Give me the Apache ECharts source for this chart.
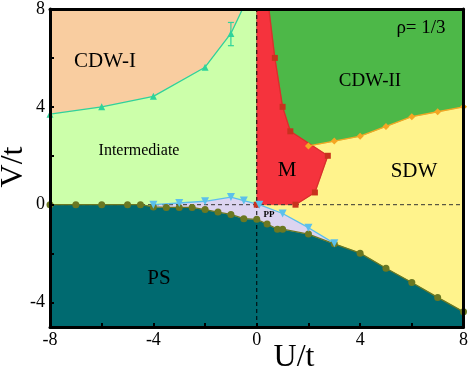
<!DOCTYPE html>
<html>
<head>
<meta charset="utf-8">
<script src="https://cdn.jsdelivr.net/npm/echarts@6/dist/echarts.min.js"></script>
<style>
  html, body { margin: 0; padding: 0; background: #fff; }
  #main { width: 471px; height: 372px; }
</style>
</head>
<body>
<div id="main"></div>
<script>
// axis range + ticks
var uMin = -8, uMax = 8, vMin = -5, vMax = 8;
var uTicks = [-8, -4, 0, 4, 8];
var uMinorTicks = [-8, -6, -4, -2, 0, 2, 4, 6, 8];
var vTicks = [-4, 0, 4, 8];
var vMinorTicks = [-4, -2, 0, 2, 4, 6, 8];

// CDW-I / Intermediate boundary (last point is where it hits the top)
var cdw1U = [-8, -6, -4, -2, -1, -0.55];
var cdw1V = [3.7, 4.0, 4.43, 5.62, 7.0, 8.0];
// error bar on the U=-1 point
var errU = [-1];
var errLo = [6.5];
var errHi = [7.45];

// M region boundary (red squares), starts at the top border
var mU = [0.47, 0.7, 1.0, 1.3, 2.75, 2.25, 1.5];
var mV = [8.0, 6.0, 4.0, 3.0, 2.0, 0.5, 0.0];

// CDW-II / SDW boundary (orange diamonds)
var sdwU = [2, 3, 4, 5, 6, 7, 8];
var sdwV = [2.4, 2.6, 2.8, 3.2, 3.6, 3.8, 4.0];

// PP upper boundary (blue down triangles)
var ppU = [-4, -3, -2, -1, -0.5, 0.1, 1, 2, 3];
var ppV = [0.0, 0.07, 0.14, 0.31, 0.17, 0.0, -0.36, -0.94, -1.58];

// PS boundary (olive circles)
var psU = [-8, -7, -6, -5, -4.5, -4, -3.5, -3, -2.5, -2, -1.5, -1, -0.5, 0, 0.4, 0.8, 1, 2, 3, 4, 5, 6, 7, 8];
var psV = [0, 0, 0, 0, 0, -0.09, -0.11, -0.11, -0.11, -0.2, -0.3, -0.4, -0.57, -0.6, -0.79, -1.0, -1.0, -1.2, -1.6, -1.98, -2.6, -3.18, -3.79, -4.38];

var serif = 'Liberation Serif';

function zip(us, vs){
	var out = [];
	for (var i = 0; i < us.length; i++) out.push([us[i], vs[i]]);
	return out;
}

// custom series that fills a polygon given in data coords
function region(pts, fill){
	return {
		type: 'custom',
		coordinateSystem: 'cartesian2d',
		silent: true,
		clip: true,
		z: 1,
		data: [[0, 0]],
		renderItem: function(params, api){
			var px = [];
			for (var i = 0; i < pts.length; i++) px.push(api.coord(pts[i]));
			return {type: 'polygon', shape: {points: px}, style: {fill: fill, stroke: fill, lineWidth: 0.5}};
		}
	};
}

// build region outlines from the boundary arrays
var rectRight = [[0, vMin], [uMax, vMin], [uMax, vMax], [0, vMax]];
var rectLeft = [[uMin, vMin], [0, vMin], [0, vMax], [uMin, vMax]];
var cdw1Poly = zip(cdw1U, cdw1V).concat([[uMin, vMax]]);
var cdw2Poly = [[0, vMax], [uMax, vMax]].concat(zip(sdwU, sdwV).reverse()).concat([[0, sdwV[0]]]);
var mPoly = [[0, vMax]].concat(zip(mU, mV)).concat([[0, 0]]);
var ppLow = [];
for (var i = psU.length - 1; i >= 0; i--){
	if (psU[i] >= ppU[0] && psU[i] <= ppU[ppU.length - 1]) ppLow.push([psU[i], psV[i]]);
}
var ppPoly = zip(ppU, ppV).concat(ppLow);
var psPoly = zip(psU, psV).concat([[uMax, vMin], [uMin, vMin]]);

function lineSeries(data, color, symbol, size, extra){
	var s = {
		type: 'line',
		data: data,
		z: 4,
		silent: true,
		symbol: symbol,
		symbolSize: size,
		showAllSymbol: true,
		lineStyle: {color: color, width: 1.3},
		itemStyle: {color: color}
	};
	if (extra) for (var k in extra) s[k] = extra[k];
	return s;
}

var cdw1Data = zip(cdw1U, cdw1V);
cdw1Data[cdw1Data.length - 1] = {value: cdw1Data[cdw1Data.length - 1], symbol: 'none'};
var mData = zip(mU, mV);
mData[0] = {value: mData[0], symbol: 'none'};

var chart = echarts.init(document.getElementById('main'), null, {renderer: 'canvas'});
var option = {
	animation: false,
	grid: {left: 50, right: 6, top: 8, bottom: 45},
	xAxis: [{
		type: 'value', min: uMin, max: uMax, z: 10,
		axisLine: {onZero: false, lineStyle: {color: '#000', width: 3}},
		axisTick: {inside: true, length: 4, lineStyle: {color: '#000', width: 2}, customValues: uMinorTicks},
		axisLabel: {color: '#000', fontFamily: serif, fontSize: 18, margin: 4, customValues: uTicks},
		splitLine: {show: false}
	}, {
		type: 'value', min: uMin, max: uMax, position: 'top', z: 10,
		axisLine: {onZero: false, lineStyle: {color: '#000', width: 3}},
		axisTick: {show: false}, axisLabel: {show: false}, splitLine: {show: false}
	}],
	yAxis: [{
		type: 'value', min: vMin, max: vMax, z: 10,
		axisLine: {onZero: false, lineStyle: {color: '#000', width: 3}},
		axisTick: {inside: true, length: 4, lineStyle: {color: '#000', width: 2}, customValues: vMinorTicks},
		axisLabel: {color: '#000', fontFamily: serif, fontSize: 18, margin: 5, customValues: vTicks},
		splitLine: {show: false}
	}, {
		type: 'value', min: vMin, max: vMax, position: 'right', z: 10,
		axisLine: {onZero: false, lineStyle: {color: '#000', width: 3}},
		axisTick: {show: false}, axisLabel: {show: false}, splitLine: {show: false}
	}],
	series: [
		region(rectRight, '#FFF38C'),
		region(rectLeft, '#CCFFAA'),
		region(cdw1Poly, '#F9CDA0'),
		region(cdw2Poly, '#4DB848'),
		region(mPoly, '#F5333D'),
		region(psPoly, '#006A70'),
		region(ppPoly, '#DCD4F0'),
		// dashed guides at U=0 and V=0
		{
			type: 'line', silent: true, z: 3, symbol: 'none',
			data: [[0, vMin], [0, vMax]],
			lineStyle: {color: '#000', width: 1, type: [4, 3]}
		},
		{
			type: 'line', silent: true, z: 3, symbol: 'none',
			data: [[uMin, 0], [uMax, 0]],
			lineStyle: {color: '#333', width: 1, type: [4, 3]}
		},
		lineSeries(cdw1Data, '#2ED39B', 'triangle', 7),
		lineSeries(mData, '#C8321E', 'rect', 6, {lineStyle: {color: '#D8302C', width: 1.3}}),
		lineSeries([[0, 0]], '#C8321E', 'rect', 6),
		lineSeries(zip(sdwU, sdwV), '#F5A623', 'diamond', 7),
		lineSeries(zip(psU, psV), '#6B7822', 'circle', 7),
		lineSeries(zip(ppU, ppV), '#5BC0EB', 'triangle', 8, {symbolRotate: 180}),
		// error bar
		{
			type: 'custom', coordinateSystem: 'cartesian2d', silent: true, z: 5,
			data: errU.map(function(u, i){ return [u, errLo[i], errHi[i]]; }),
			renderItem: function(params, api){
				var lo = api.coord([api.value(0), api.value(1)]);
				var hi = api.coord([api.value(0), api.value(2)]);
				var st = {stroke: '#2ED39B', lineWidth: 1.2};
				return {type: 'group', children: [
					{type: 'line', shape: {x1: lo[0], y1: lo[1], x2: hi[0], y2: hi[1]}, style: st},
					{type: 'line', shape: {x1: lo[0] - 3, y1: lo[1], x2: lo[0] + 3, y2: lo[1]}, style: st},
					{type: 'line', shape: {x1: hi[0] - 3, y1: hi[1], x2: hi[0] + 3, y2: hi[1]}, style: st}
				]};
			}
		}
	],
	graphic: [
		{type: 'text', z: 20, x: 105, y: 61, style: {text: 'CDW-I', font: '21px ' + serif, fill: '#000', align: 'center', verticalAlign: 'middle'}},
		{type: 'text', z: 20, x: 139, y: 151, style: {text: 'Intermediate', font: '16px ' + serif, fill: '#000', align: 'center', verticalAlign: 'middle'}},
		{type: 'text', z: 20, x: 370, y: 81, style: {text: 'CDW-II', font: '19px ' + serif, fill: '#000', align: 'center', verticalAlign: 'middle'}},
		{type: 'text', z: 20, x: 287, y: 170, style: {text: 'M', font: '21px ' + serif, fill: '#000', align: 'center', verticalAlign: 'middle'}},
		{type: 'text', z: 20, x: 414, y: 171, style: {text: 'SDW', font: '21px ' + serif, fill: '#000', align: 'center', verticalAlign: 'middle'}},
		{type: 'text', z: 20, x: 159, y: 278, style: {text: 'PS', font: '21px ' + serif, fill: '#000', align: 'center', verticalAlign: 'middle'}},
		{type: 'text', z: 20, x: 269, y: 215, style: {text: 'PP', font: 'bold 9px ' + serif, fill: '#000', align: 'center', verticalAlign: 'middle'}},
		{type: 'text', z: 20, x: 421, y: 28, style: {text: 'ρ= 1/3', font: '19px ' + serif, fill: '#000', align: 'center', verticalAlign: 'middle'}},
		{type: 'text', z: 20, x: 294, y: 358, style: {text: 'U/t', font: '32px ' + serif, fill: '#000', align: 'center', verticalAlign: 'middle'}},
		{type: 'text', z: 20, x: 14, y: 167, rotation: Math.PI / 2, style: {text: 'V/t', font: '32px ' + serif, fill: '#000', align: 'center', verticalAlign: 'middle'}}
	]
};
chart.setOption(option);
</script>
</body>
</html>
